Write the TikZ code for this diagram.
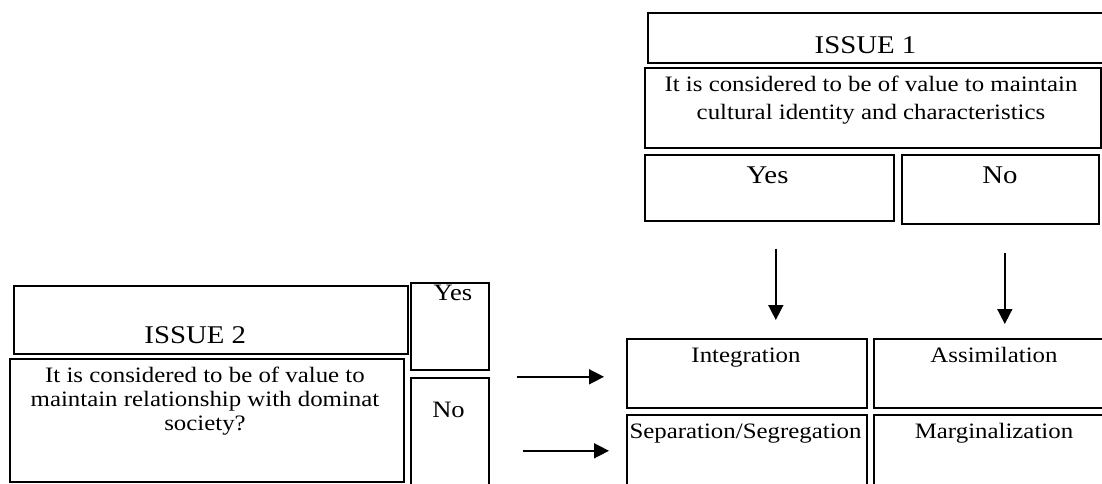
\documentclass[tikz,border=0pt]{standalone}
\usepackage{fontspec}
\setmainfont{Liberation Serif}[FakeStretch=1.13]
\usetikzlibrary{arrows.meta,calc}
\tikzset{
  box/.style={draw, line width=1.6pt, inner sep=0pt, anchor=north west},
  txt/.style={inner sep=0pt, anchor=base, align=center},
  big/.style={font=\fontsize{25.5}{30}\selectfont},
  mid/.style={font=\fontsize{23.5}{28}\selectfont},
  body/.style={font=\fontsize{22}{27.6}\selectfont},
  bodyb/.style={font=\fontsize{22}{24.2}\selectfont},
  arr/.style={line width=1.6pt, -{Triangle[length=15pt,width=15pt]}}
}
\newcommand{\mybox}[5]{\node[box, minimum width=#4pt-#2pt, minimum height=#5pt-#3pt] (#1) at (#2,#3) {};}
\begin{document}
\begin{tikzpicture}[x=1pt,y=-1pt]
\useasboundingbox (0,0) rectangle (1102,483);
\clip (0,0) rectangle (1102,483);
% boxes
\mybox{iss1}{647}{12}{1120}{62}
\mybox{q1}{644}{67}{1100}{147}
\mybox{yes1}{644}{154}{893}{220}
\mybox{no1}{901}{154}{1098}{223}
\mybox{iss2}{13}{285}{407}{353}
\mybox{q2}{9}{358}{403}{481}
\mybox{yes2}{410}{282}{488}{369}
\mybox{no2}{410}{377}{488}{500}
\mybox{integ}{626}{338}{866}{407}
\mybox{assim}{873}{338}{1120}{407}
\mybox{sep}{626}{414}{866}{500}
\mybox{marg}{873}{414}{1120}{500}
% texts (anchor base = baseline of the last line)
\node[txt,big] (t1) at (865.5,53) {ISSUE 1};
\node[txt,body] (tq1) at (871,119.5) {It is considered to be of value to maintain\\cultural identity and characteristics};
\node[txt,big] (ty1) at (767.5,183) {Yes};
\node[txt,big] (tn1) at (1000,183) {No};
\node[txt,big] (t2) at (195.3,343) {ISSUE 2};
\node[txt,bodyb] (tq2) at (205,430.5) {It is considered to be of value to\\maintain relationship with dominat\\society?};
\node[txt,mid] (ty2) at (453,300.5) {Yes};
\node[txt,mid] (tn2) at (448.5,417) {No};
\node[txt,body] (ti) at (746,362) {Integration};
\node[txt,body] (ts) at (745.5,438) {Separation/Segregation};
\node[txt,body] (ta) at (994,362) {Assimilation};
\node[txt,body] (tm) at (994,438) {Marginalization};
% arrows
\draw[arr] ($(yes1.south)+(6.5,27)$) -- ($(integ.north)+(29,-18)$);
\draw[arr] ($(no1.south)+(4.5,28)$) -- ($(assim.north)+(7.5,-14)$);
\draw[arr] ($(yes2.east)+(27,50.5)$) -- ($(integ.west)+(-22,3.5)$);
\draw[arr] ($(no2.east)+(33,11.5)$) -- ($(sep.west)+(-17,-7)$);
\end{tikzpicture}
\end{document}
